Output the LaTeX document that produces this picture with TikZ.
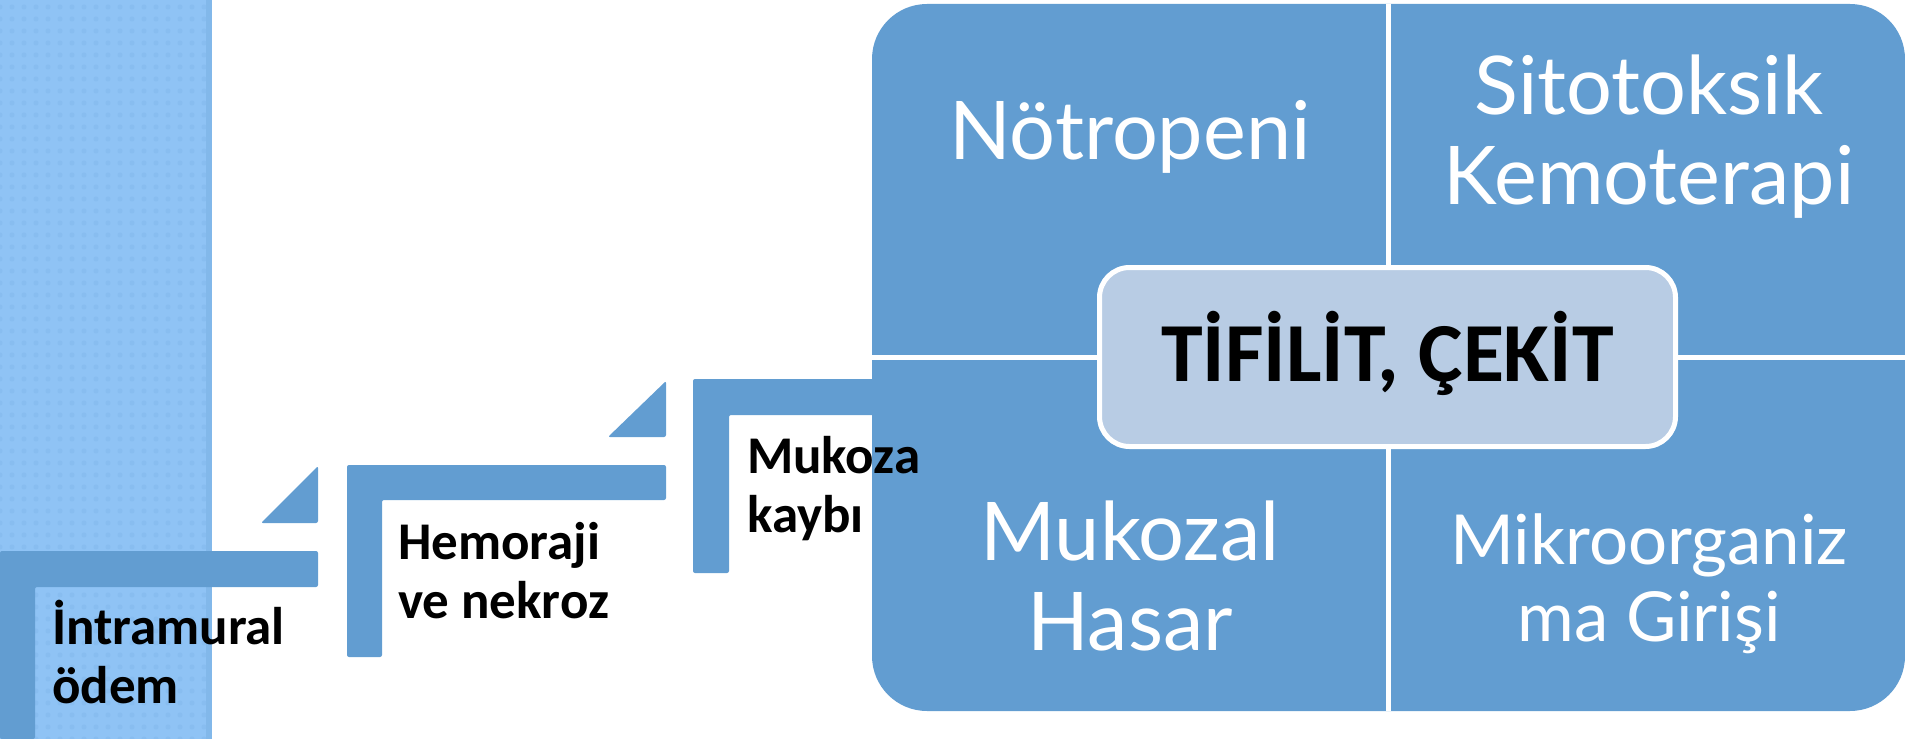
\documentclass[tikz,border=0pt]{standalone}
\usepackage{fontspec}
\setmainfont{Carlito}
\newfontfamily\gillfont{Lato}
\usepackage{tikz}
\usetikzlibrary{patterns.meta}
\definecolor{stepblue}{RGB}{98,157,209}
\definecolor{stripblue}{RGB}{143,195,245}
\definecolor{centerblue}{RGB}{184,204,228}

\begin{document}
\begin{tikzpicture}[x=1bp, y=-1bp,
    stepbar/.style={fill=stepblue, rounded corners=2bp},
    quadtext/.style={text=white, align=center, anchor=base, inner sep=0pt, font=\gillfont\fontsize{81bp}{90bp}\selectfont},
    steptext/.style={text=black, align=left, anchor=base west, inner sep=0pt, font=\bfseries\fontsize{53bp}{59bp}\selectfont}]
    \useasboundingbox (0,0) rectangle (1905,739);

    % left strip
    \fill[stripblue] (0,0) rectangle (212,739);
    \fill[pattern={Dots[distance=12bp, radius=2.5bp]}, pattern color=stripblue!85!stepblue] (0,0) rectangle (212,739);
    \fill[stripblue!70!stepblue] (206,0) rectangle (212,739);

    % steps
    \fill[stepbar] (0,551) -- (318,551) -- (318,587) -- (35,587) -- (35,739) -- (0,739) -- cycle;
    \fill[stepbar] (261,523) -- (318,466) -- (318,523) -- cycle;
    \fill[stepbar] (347,465) -- (666,465) -- (666,500) -- (382,500) -- (382,657) -- (347,657) -- cycle;
    \fill[stepbar] (608,437) -- (666,381) -- (666,437) -- cycle;
    \fill[stepbar] (693,379) -- (890,379) -- (890,415) -- (729,415) -- (729,573) -- (693,573) -- cycle;

    % matrix
    \fill[stepblue, rounded corners=55bp] (872,4) rectangle (1905,711);
    \draw[white, line width=5bp] (1388,4) -- (1388,711);
    \draw[white, line width=5bp] (872,357) -- (1905,357);

    \node[draw=white, line width=5bp, fill=centerblue, rounded corners=30bp,
          minimum width=576bp, minimum height=179bp, inner sep=0pt,
          text height=48bp, text depth=0bp,
          font=\bfseries\fontsize{84bp}{90bp}\selectfont] (center) at (1387.5,357) {TİFİLİT, ÇEKİT};

    % texts, placed by the baseline of their last line
    \node[quadtext] (notropeni) at (1130,159) {Nötropeni};
    \node[quadtext] (sitotoksik) at (1649,204) {Sitotoksik\\Kemoterapi};
    \node[quadtext] (mukozal) at (1130,650) {Mukozal\\Hasar};
    \node[quadtext, font=\gillfont\fontsize{69bp}{77bp}\selectfont] (mikro) at (1649,641) {Mikroorganiz\\ma Girişi};

    \node[steptext] (intramural) at (52,703) {İntramural\\ödem};
    \node[steptext] (hemoraji) at (398,618) {Hemoraji\\ve nekroz};
    \node[steptext] (mukoza) at (747,532) {Mukoza\\kaybı};
\end{tikzpicture}
\end{document}
